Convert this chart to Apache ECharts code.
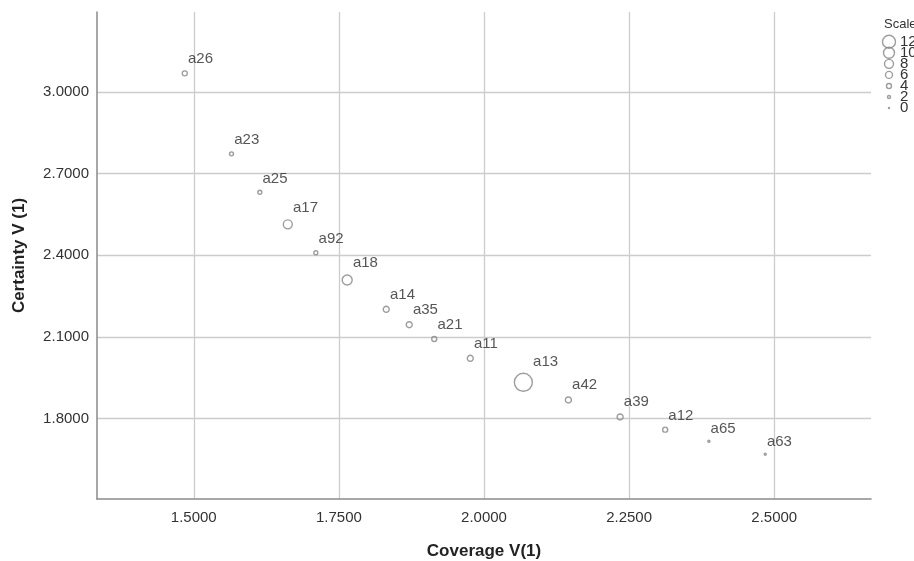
<!DOCTYPE html>
<html>
<head>
<meta charset="utf-8">
<script src="https://cdn.jsdelivr.net/npm/echarts@6/dist/echarts.min.js"></script>
<style>
html,body{margin:0;padding:0;background:#fff;}
#chart{width:914px;height:561px;}
</style>
</head>
<body>
<div id="chart"></div>
<script>
// ---- data ----
var names     = ['a26','a23','a25','a17','a92','a18','a14','a35','a21','a11','a13','a42','a39','a12','a65','a63'];
var coverage  = [1.4845,1.5650,1.6138,1.6620,1.7103,1.7643,1.8316,1.8712,1.9143,1.9764,2.0678,2.1454,2.2345,2.3121,2.3874,2.4845];
var certainty = [3.0676,2.7720,2.6306,2.5130,2.4087,2.3085,2.2009,2.1443,2.0918,2.0210,1.9328,1.8678,1.8054,1.7587,1.7161,1.6684];
var scaleVals = [4,3,3,8,3,9,5,5,4,5,17,5,5,4,1,1];
var xTicks = [1.5,1.75,2.0,2.25,2.5];
var yTicks = [1.8,2.1,2.4,2.7,3.0];
var legendVals = [12,10,8,6,4,2,0];

var FONT = "'Liberation Sans', Arial, sans-serif";
var STROKE = '#858585';
function sz(v){ return 1 + v; }

var mainData = names.map(function(n,i){ return {name:n, value:[coverage[i], certainty[i], scaleVals[i]]}; });
var legData = legendVals.map(function(v){ return {value:[0.5, String(v), v]}; });

var chart = echarts.init(document.getElementById('chart'));
chart.setOption({
  animation:false,
  backgroundColor:'#fff',
  title:{text:'Scale', left:884, top:18, padding:0, textStyle:{fontFamily:FONT, fontSize:13, fontWeight:'normal', color:'#333'}},
  grid:[
    {left:97, top:12, right:43, bottom:62, outerBoundsMode:'none'},
    {left:881, top:36.2, width:16, height:77.4, outerBoundsMode:'none'}
  ],
  xAxis:[{
    type:'value', min:1.3333, max:2.6667,
    name:'Coverage V(1)', nameLocation:'middle', nameGap:44,
    nameTextStyle:{fontFamily:FONT, fontSize:17, fontWeight:'bold', color:'#222'},
    axisLine:{show:true, lineStyle:{color:'#8a8a8a', width:1.5}},
    axisTick:{show:false, customValues:xTicks},
    axisLabel:{customValues:xTicks, margin:11, fontFamily:FONT, fontSize:15, color:'#333',
      formatter:function(v){return Number(v).toFixed(4);}},
    splitLine:{show:true, lineStyle:{color:'#cccccc', width:1.3}}
  },{
    type:'value', gridIndex:1, min:0, max:1, show:false
  }],
  yAxis:[{
    type:'value', min:1.504, max:3.293,
    name:'Certainty V (1)', nameLocation:'middle', nameGap:69,
    nameTextStyle:{fontFamily:FONT, fontSize:17, fontWeight:'bold', color:'#222'},
    axisLine:{show:true, lineStyle:{color:'#8a8a8a', width:1.5}},
    axisTick:{show:false, customValues:yTicks},
    axisLabel:{customValues:yTicks, margin:8, fontFamily:FONT, fontSize:15, color:'#333',
      formatter:function(v){return Number(v).toFixed(4);}},
    splitLine:{show:true, lineStyle:{color:'#cccccc', width:1.3}}
  },{
    type:'category', gridIndex:1, inverse:true, position:'right',
    data:legendVals.map(String),
    axisLine:{show:false}, axisTick:{show:false}, splitLine:{show:false},
    axisLabel:{interval:0, margin:3, fontFamily:FONT, fontSize:15, color:'#333', hideOverlap:false}
  }],
  series:[{
    type:'scatter', xAxisIndex:0, yAxisIndex:0,
    data:mainData,
    symbol:'circle',
    symbolSize:function(val){ return sz(val[2]); },
    itemStyle:{color:'rgba(255,255,255,0)', borderColor:STROKE, borderWidth:1.4},
    label:{show:true, formatter:'{b}', position:['100%', -11], align:'left', verticalAlign:'middle',
      fontFamily:FONT, fontSize:15, color:'#2a2a2a'},
    emphasis:{disabled:true}
  },{
    type:'scatter', xAxisIndex:1, yAxisIndex:1,
    data:legData,
    symbol:'circle',
    symbolSize:function(val){ return sz(val[2]); },
    itemStyle:{color:'rgba(255,255,255,0)', borderColor:STROKE, borderWidth:1.4},
    emphasis:{disabled:true}
  }]
});
</script>
</body>
</html>
